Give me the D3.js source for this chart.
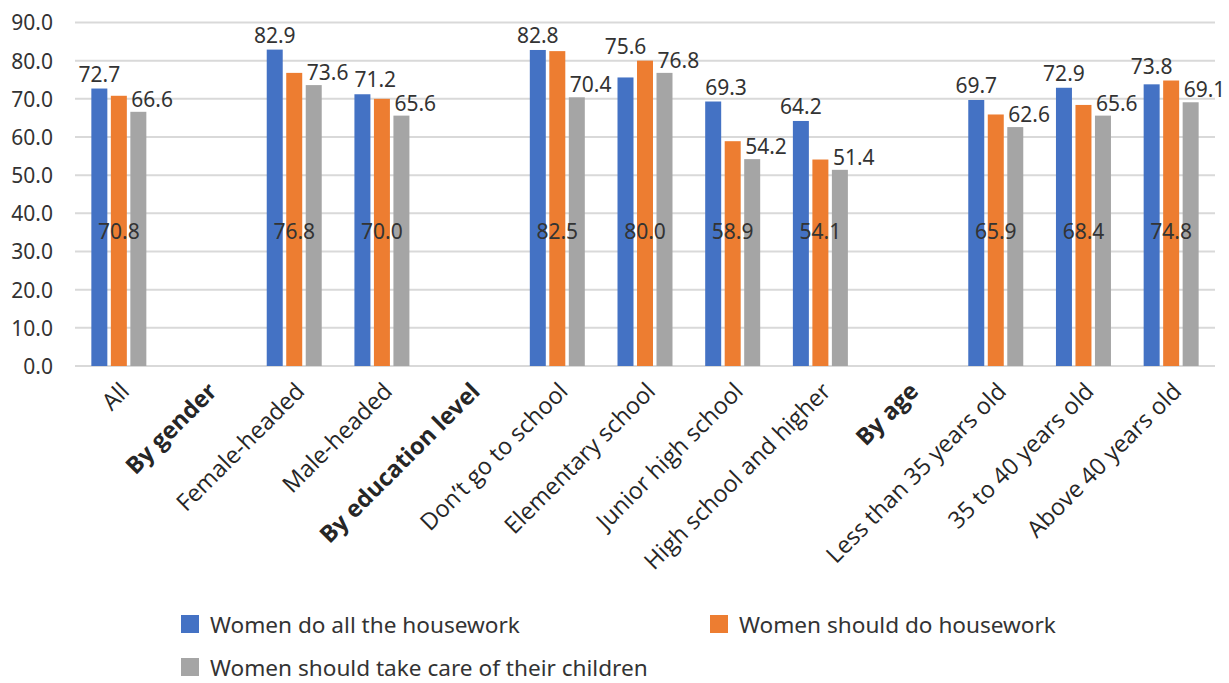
<!DOCTYPE html>
<html>
<head>
<meta charset="utf-8">
<script src="https://cdn.jsdelivr.net/npm/d3@7"></script>
<style>
  html, body { margin: 0; padding: 0; background: #fff; }
  svg { display: block; }
</style>
</head>
<body>
<svg id="chart" width="1229" height="683"></svg>
<script>
// Categories along the x axis; the "By ..." entries are section headers with no bars.
const categories = [
  "All", "By gender", "Female-headed", "Male-headed", "By education level",
  "Don\u2019t go to school", "Elementary school", "Junior high school",
  "High school and higher", "By age", "Less than 35 years old",
  "35 to 40 years old", "Above 40 years old"
];
const headerCategories = ["By gender", "By education level", "By age"];

// Series values (%), null where a header has no data.
const doAllHousework   = [72.7, null, 82.9, 71.2, null, 82.8, 75.6, 69.3, 64.2, null, 69.7, 72.9, 73.8];
const shouldDoHousework = [70.8, null, 76.8, 70.0, null, 82.5, 80.0, 58.9, 54.1, null, 65.9, 68.4, 74.8];
const shouldTakeCare   = [66.6, null, 73.6, 65.6, null, 70.4, 76.8, 54.2, 51.4, null, 62.6, 65.6, 69.1];

const seriesNames = [
  "Women do all the housework",
  "Women should do housework",
  "Women should take care of their children"
];
const seriesColors = ["#4472C4", "#ED7D31", "#A5A5A5"];
const yTicks = [0, 10, 20, 30, 40, 50, 60, 70, 80, 90];

const series = [doAllHousework, shouldDoHousework, shouldTakeCare];

const svg = d3.select("#chart");
const textColor = "#333333";

const plot = { left: 75, right: 1215, top: 22.5, bottom: 366 };

const y = d3.scaleLinear().domain([0, 90]).range([plot.bottom, plot.top]);
const x0 = d3.scaleBand().domain(categories).range([plot.left, plot.right]).paddingInner(0).paddingOuter(0);
const groupWidth = 55;
const x1 = d3.scaleBand().domain(d3.range(series.length))
  .range([(x0.bandwidth() - groupWidth) / 2, (x0.bandwidth() + groupWidth) / 2])
  .paddingInner(0.18);

// Horizontal gridlines
svg.append("g").selectAll("line")
  .data(yTicks)
  .join("line")
  .attr("x1", plot.left).attr("x2", plot.right)
  .attr("y1", d => y(d)).attr("y2", d => y(d))
  .attr("stroke", "#d9d9d9").attr("stroke-width", 2);

// Y axis labels
const yAxis = d3.axisLeft(y).tickValues(yTicks).tickFormat(d3.format(".1f")).tickSize(0).tickPadding(0);
const yAxisG = svg.append("g").attr("transform", "translate(53,0)").call(yAxis);
yAxisG.select(".domain").remove();
yAxisG.selectAll("text")
  .attr("font-family", "'Noto Sans', sans-serif")
  .attr("font-size", 21)
  .attr("fill", textColor)
  .attr("dy", "0.35em");

// Bars
const groups = svg.append("g").selectAll("g")
  .data(categories)
  .join("g")
  .attr("transform", d => `translate(${x0(d)},0)`);

groups.selectAll("rect")
  .data((d, i) => series.map((s, k) => ({ k, v: s[i] })).filter(e => e.v !== null))
  .join("rect")
  .attr("x", e => x1(e.k))
  .attr("width", x1.bandwidth())
  .attr("y", e => y(e.v))
  .attr("height", e => y(0) - y(e.v))
  .attr("fill", e => seriesColors[e.k]);

// Value labels
const labelFont = "'Noto Sans', sans-serif";
const labels = svg.append("g")
  .attr("font-family", labelFont)
  .attr("font-size", 21)
  .attr("fill", textColor);

const fmt = d3.format(".1f");
let prevThird = null; // last drawn third-series label, used to keep neighbours apart

categories.forEach((c, i) => {
  const gx = x0(c);
  // first series: centred above its bar, clearing the neighbouring bar it spans,
  // and nudged right if it collides with the previous group's label
  if (doAllHousework[i] !== null) {
    const top = Math.min(y(doAllHousework[i]), y(shouldDoHousework[i]));
    const t = labels.append("text")
      .attr("x", gx + x1(0) + x1.bandwidth() / 2)
      .attr("y", top - 7)
      .attr("text-anchor", "middle")
      .text(fmt(doAllHousework[i]));
    if (prevThird) {
      const a = t.node().getBBox(), b = prevThird.node().getBBox();
      const overlapX = b.x + b.width + 6 - a.x;
      const overlapY = a.y < b.y + b.height && b.y < a.y + a.height;
      if (overlapX > 0 && overlapY) t.attr("x", +t.attr("x") + overlapX);
    }
  }
  // second series: labels share one line partway up the bars
  if (shouldDoHousework[i] !== null) {
    labels.append("text")
      .attr("x", gx + x1(1) + x1.bandwidth() / 2)
      .attr("y", y(33.3))
      .attr("text-anchor", "middle")
      .text(fmt(shouldDoHousework[i]));
  }
  // third series: starts at the bar's left edge, just above it
  if (shouldTakeCare[i] !== null) {
    prevThird = labels.append("text")
      .attr("x", gx + x1(2) + 1)
      .attr("y", y(shouldTakeCare[i]) - 5)
      .attr("text-anchor", "start")
      .text(fmt(shouldTakeCare[i]));
  } else {
    prevThird = null;
  }
});

// Category labels, rotated
const xAxis = svg.append("g");
xAxis.selectAll("text")
  .data(categories)
  .join("text")
  .attr("transform", d => `translate(${x0(d) + x0.bandwidth() / 2},381) rotate(-45)`)
  .attr("dy", "0.71em")
  .attr("text-anchor", "end")
  .attr("font-family", "'Open Sans', sans-serif")
  .attr("font-size", 23.5)
  .attr("font-weight", d => headerCategories.includes(d) ? 700 : 400)
  .attr("fill", "#262626")
  .text(d => d);

// Legend
const legendPos = [[181, 615], [710, 615], [181, 658]];
const legend = svg.append("g");
seriesNames.forEach((name, k) => {
  const [lx, ly] = legendPos[k];
  legend.append("rect")
    .attr("x", lx).attr("y", ly).attr("width", 18).attr("height", 18)
    .attr("fill", seriesColors[k]);
  legend.append("text")
    .attr("x", lx + 29).attr("y", ly + 18)
    .attr("font-family", "'Noto Sans', sans-serif")
    .attr("font-size", 22.6)
    .attr("fill", textColor)
    .text(name);
});
</script>
</body>
</html>
